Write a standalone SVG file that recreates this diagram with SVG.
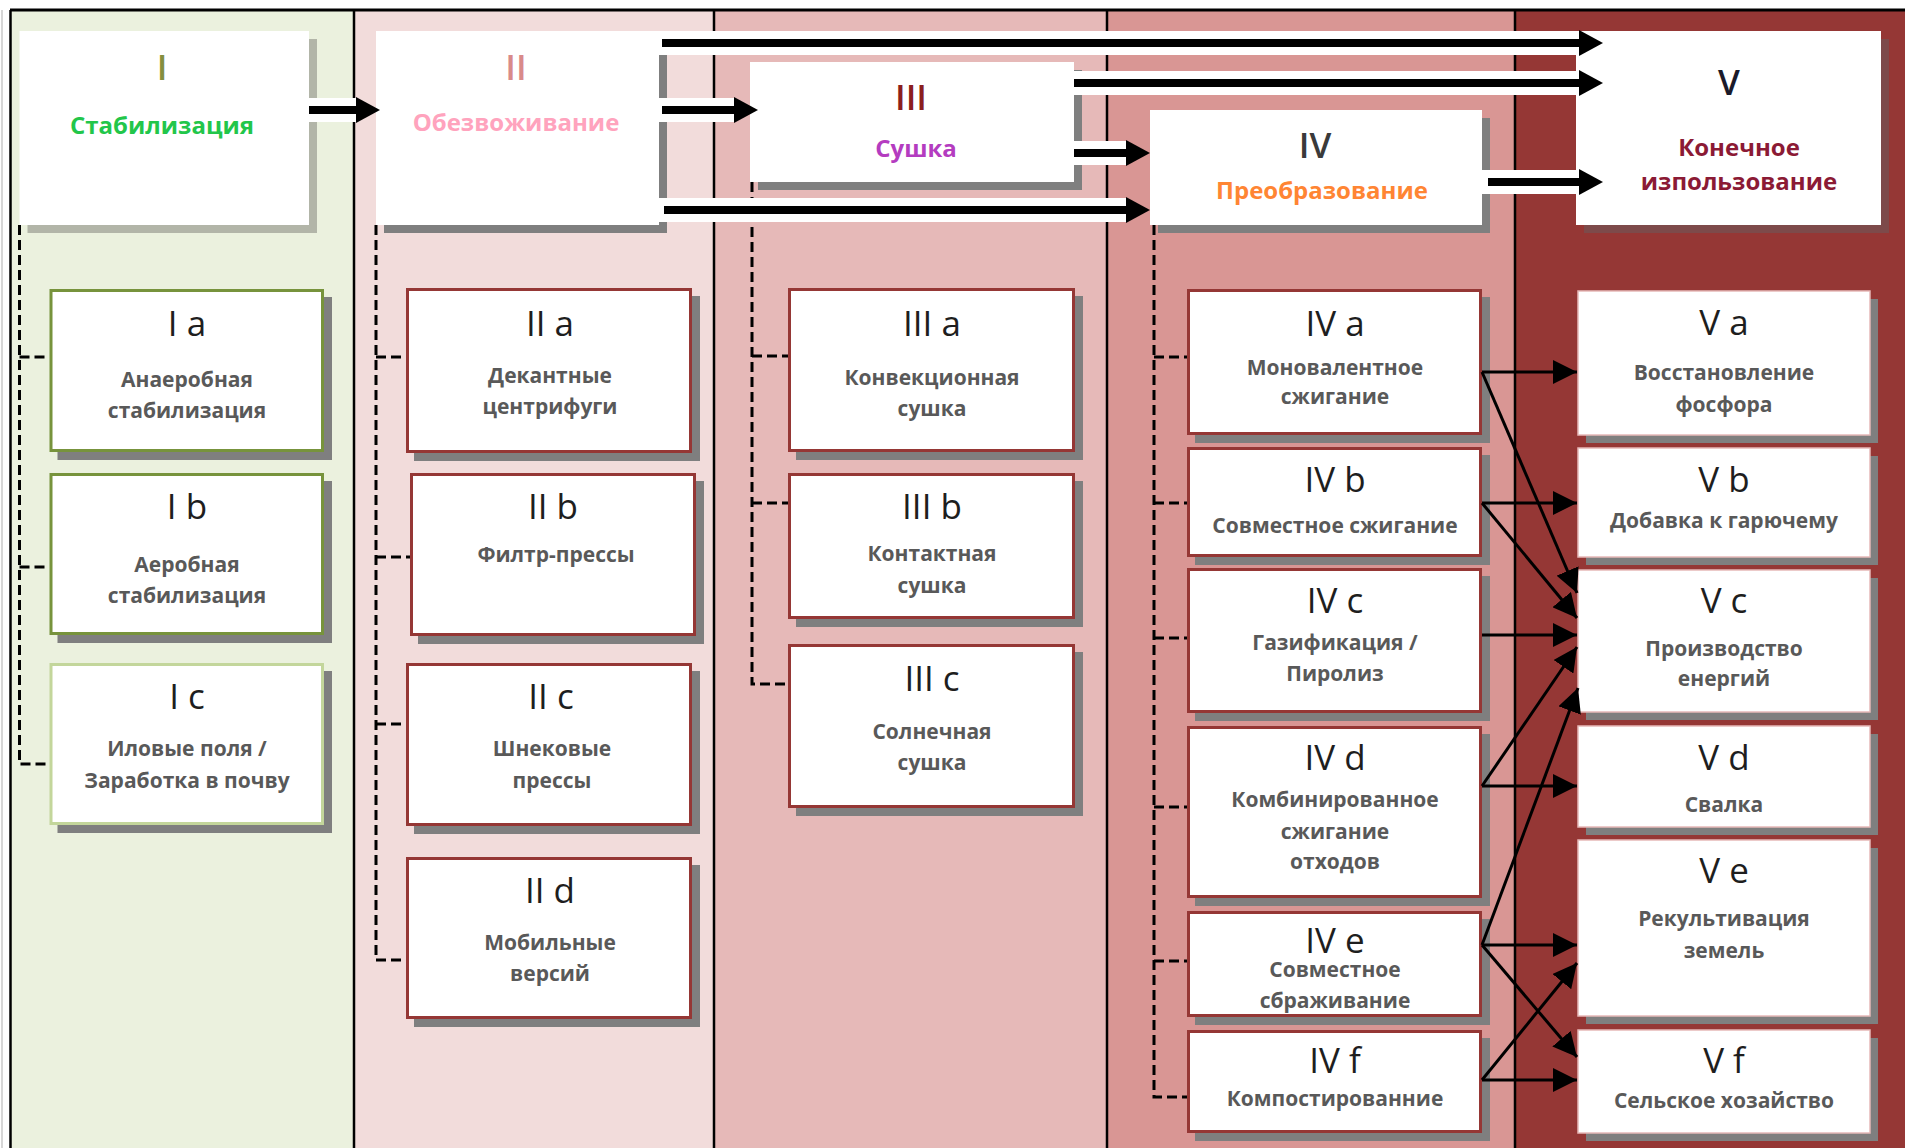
<svg xmlns="http://www.w3.org/2000/svg" width="1905" height="1148" viewBox="0 0 1905 1148">
<defs>
<style>
.n{font-family:"Open Sans","Noto Sans","DejaVu Sans",sans-serif;font-size:35px;fill:#1e1e1e;text-anchor:middle}
.l{font-family:"Open Sans","Noto Sans","DejaVu Sans",sans-serif;font-weight:700;font-size:21px;fill:#595959;text-anchor:middle}
.t{font-family:"Open Sans","Noto Sans","DejaVu Sans",sans-serif;font-weight:700;font-size:24px;text-anchor:middle}
.r{font-family:"Open Sans","Noto Sans","DejaVu Sans",sans-serif;font-weight:600;font-size:35px;text-anchor:middle}
.sh{fill:#7f7f7f}
.wb{fill:#ffffff}
.b1{fill:#ffffff;stroke:#77933c;stroke-width:3}
.b1c{fill:#ffffff;stroke:#c3d69b;stroke-width:3}
.b2{fill:#ffffff;stroke:#953735;stroke-width:3}
.b5{fill:#ffffff;stroke:#e6b9b8;stroke-width:1.5}
.dash{fill:none;stroke:#000;stroke-width:3;stroke-dasharray:10 5}
.halo{stroke:#ffffff;stroke-width:24;fill:none}
.thick{stroke:#000;stroke-width:8;fill:none;marker-end:url(#headL)}
.thin{stroke:#000;stroke-width:3;fill:none;marker-end:url(#headS)}
.div{stroke:#000;stroke-width:2.5}
</style>
<marker id="headL" markerUnits="userSpaceOnUse" markerWidth="24" markerHeight="26" viewBox="0 0 24 26" refX="0" refY="13" orient="auto">
<path d="M0,0 L24,13 L0,26 Z" fill="#000"/>
</marker>
<marker id="headS" markerUnits="userSpaceOnUse" markerWidth="24" markerHeight="24" viewBox="0 0 24 24" refX="24" refY="12" orient="auto">
<path d="M0,0 L24,12 L0,24 Z" fill="#000"/>
</marker>
</defs>

<g id="background">
<rect x="0" y="0" width="1905" height="1148" fill="#ffffff"/>
<rect x="10" y="10" width="344" height="1138" fill="#ebf1de"/>
<rect x="354" y="10" width="360" height="1138" fill="#f2dcdb"/>
<rect x="714" y="10" width="393" height="1138" fill="#e6b9b8"/>
<rect x="1107" y="10" width="408" height="1138" fill="#d99694"/>
<rect x="1515" y="10" width="390" height="1138" fill="#953735"/>
<line x1="2" y1="10" x2="2" y2="1148" stroke="#c8c8c8" stroke-width="1.5"/>
<line x1="10.5" y1="10" x2="10.5" y2="1148" class="div"/>
<line x1="10" y1="10" x2="1905" y2="10" stroke="#000" stroke-width="3"/>
<line x1="354" y1="10" x2="354" y2="1148" class="div"/>
<line x1="714" y1="10" x2="714" y2="1148" class="div"/>
<line x1="1107" y1="10" x2="1107" y2="1148" class="div"/>
<line x1="1515" y1="10" x2="1515" y2="1148" class="div"/>
</g>

<g id="dashed-connectors">
<path class="dash" d="M19.5,225 V764 H49 M19.5,357 H49 M19.5,567 H49"/>
<path class="dash" d="M376,225 V960 H406 M376,357 H406 M376,557 H410 M376,724 H406"/>
<path class="dash" d="M752,182 V684 H788 M752,356 H788 M752,503 H788"/>
<path class="dash" d="M1154,225 V1097 H1187 M1154,357 H1187 M1154,503 H1187 M1154,638 H1187 M1154,807 H1187 M1154,961 H1187"/>
</g>

<g id="node-I">
<rect x="27.5" y="39" width="289.5" height="194" fill="#b2b5a8"/>
<rect class="wb" x="19.5" y="31" width="289.5" height="194"/>
<text class="r" x="162" y="80" fill="#858f3e">I</text>
<text class="t" x="162" y="134" fill="#22c64a">Стабилизация</text>
</g>
<g id="node-II">
<rect class="sh" x="384" y="39" width="283" height="194"/>
<rect class="wb" x="376" y="31" width="283" height="194"/>
<text class="r" x="516" y="80" fill="#d98a8a">II</text>
<text class="t" x="516" y="131" fill="#ffa3bd">Обезвоживание</text>
</g>
<g id="node-III">
<rect class="sh" x="758" y="70" width="324" height="120"/>
<rect class="wb" x="750" y="62" width="324" height="120"/>
<text class="r" x="911" y="110" fill="#8b1e1e">III</text>
<text class="t" x="916" y="157" fill="#b43cc0">Сушка</text>
</g>
<g id="node-IV">
<rect class="sh" x="1158" y="118" width="332" height="115"/>
<rect class="wb" x="1150" y="110" width="332" height="115"/>
<text class="r" x="1315" y="158" fill="#3a3a3a">IV</text>
<text class="t" x="1322" y="199" fill="#ff8533">Преобразование</text>
</g>
<g id="node-V">
<rect x="1584" y="39" width="305" height="194" fill="#7d4a4a"/>
<rect class="wb" x="1576" y="31" width="305" height="194"/>
<text class="r" x="1729" y="95" fill="#1a1a2a">V</text>
<text class="t" x="1739" y="156" fill="#8b1a35">Конечное</text>
<text class="t" x="1739" y="190" fill="#8b1a35">изпользование</text>
</g>

<g id="node-Ia">
<rect class="sh" x="57.5" y="297" width="274.5" height="163"/>
<rect class="b1" x="51" y="290.5" width="271.5" height="160"/>
<text class="n" x="187" y="336">I a</text>
<text class="l" x="187" y="387">Анаеробная</text>
<text class="l" x="187" y="418">стабилизация</text>
</g>
<g id="node-Ib">
<rect class="sh" x="57.5" y="481" width="274.5" height="162"/>
<rect class="b1" x="51" y="474.5" width="271.5" height="159"/>
<text class="n" x="187" y="519">I b</text>
<text class="l" x="187" y="572">Аеробная</text>
<text class="l" x="187" y="603">стабилизация</text>
</g>
<g id="node-Ic">
<rect class="sh" x="57.5" y="671" width="274.5" height="162"/>
<rect class="b1c" x="51" y="664.5" width="271.5" height="159"/>
<text class="n" x="187" y="709">I c</text>
<text class="l" x="187" y="756">Иловые поля /</text>
<text class="l" x="187" y="788">Заработка в почву</text>
</g>

<g id="node-IIa">
<rect class="sh" x="414" y="296" width="286" height="165"/>
<rect class="b2" x="407.5" y="289.5" width="283" height="162"/>
<text class="n" x="550" y="336">II a</text>
<text class="l" x="550" y="383">Декантные</text>
<text class="l" x="550" y="414">центрифуги</text>
</g>
<g id="node-IIb">
<rect class="sh" x="418" y="481" width="286" height="163"/>
<rect class="b2" x="411.5" y="474.5" width="283" height="160"/>
<text class="n" x="553" y="519">II b</text>
<text class="l" x="556" y="562">Филтр-прессы</text>
</g>
<g id="node-IIc">
<rect class="sh" x="414" y="671" width="286" height="163"/>
<rect class="b2" x="407.5" y="664.5" width="283" height="160"/>
<text class="n" x="551" y="709">II c</text>
<text class="l" x="552" y="756">Шнековые</text>
<text class="l" x="552" y="788">прессы</text>
</g>
<g id="node-IId">
<rect class="sh" x="414" y="865" width="286" height="162"/>
<rect class="b2" x="407.5" y="858.5" width="283" height="159"/>
<text class="n" x="550" y="903">II d</text>
<text class="l" x="550" y="950">Мобильные</text>
<text class="l" x="550" y="981">версий</text>
</g>

<g id="node-IIIa">
<rect class="sh" x="796" y="296" width="287" height="164"/>
<rect class="b2" x="789.5" y="289.5" width="284" height="161"/>
<text class="n" x="932" y="336">III a</text>
<text class="l" x="932" y="385">Конвекционная</text>
<text class="l" x="932" y="416">сушка</text>
</g>
<g id="node-IIIb">
<rect class="sh" x="796" y="481" width="287" height="146"/>
<rect class="b2" x="789.5" y="474.5" width="284" height="143"/>
<text class="n" x="932" y="519">III b</text>
<text class="l" x="932" y="561">Контактная</text>
<text class="l" x="932" y="593">сушка</text>
</g>
<g id="node-IIIc">
<rect class="sh" x="796" y="652" width="287" height="164"/>
<rect class="b2" x="789.5" y="645.5" width="284" height="161"/>
<text class="n" x="932" y="691">III c</text>
<text class="l" x="932" y="739">Солнечная</text>
<text class="l" x="932" y="770">сушка</text>
</g>

<g id="node-IVa">
<rect class="sh" x="1195" y="297" width="295" height="146"/>
<rect class="b2" x="1188.5" y="290.5" width="292" height="143"/>
<text class="n" x="1335" y="336">IV a</text>
<text class="l" x="1335" y="375">Моновалентное</text>
<text class="l" x="1335" y="404">сжигание</text>
</g>
<g id="node-IVb">
<rect class="sh" x="1195" y="455" width="295" height="110"/>
<rect class="b2" x="1188.5" y="448.5" width="292" height="107"/>
<text class="n" x="1335" y="492">IV b</text>
<text class="l" x="1335" y="533">Совместное сжигание</text>
</g>
<g id="node-IVc">
<rect class="sh" x="1195" y="576" width="295" height="145"/>
<rect class="b2" x="1188.5" y="569.5" width="292" height="142"/>
<text class="n" x="1335" y="613">IV c</text>
<text class="l" x="1335" y="650">Газификация /</text>
<text class="l" x="1335" y="681">Пиролиз</text>
</g>
<g id="node-IVd">
<rect class="sh" x="1195" y="734" width="295" height="172"/>
<rect class="b2" x="1188.5" y="727.5" width="292" height="169"/>
<text class="n" x="1335" y="770">IV d</text>
<text class="l" x="1335" y="807">Комбинированное</text>
<text class="l" x="1335" y="839">сжигание</text>
<text class="l" x="1335" y="869">отходов</text>
</g>
<g id="node-IVe">
<rect class="sh" x="1195" y="919" width="295" height="106"/>
<rect class="b2" x="1188.5" y="912.5" width="292" height="103"/>
<text class="n" x="1335" y="953">IV e</text>
<text class="l" x="1335" y="977">Совместное</text>
<text class="l" x="1335" y="1008">сбраживание</text>
</g>
<g id="node-IVf">
<rect class="sh" x="1195" y="1038" width="295" height="103"/>
<rect class="b2" x="1188.5" y="1031.5" width="292" height="100"/>
<text class="n" x="1335" y="1073">IV f</text>
<text class="l" x="1335" y="1106">Компостированние</text>
</g>

<g id="node-Va">
<rect class="sh" x="1586" y="299" width="292" height="144"/>
<rect class="b5" x="1578" y="291" width="292" height="144"/>
<text class="n" x="1724" y="335">V a</text>
<text class="l" x="1724" y="380">Восстановление</text>
<text class="l" x="1724" y="412">фосфора</text>
</g>
<g id="node-Vb">
<rect class="sh" x="1586" y="456" width="292" height="109"/>
<rect class="b5" x="1578" y="448" width="292" height="109"/>
<text class="n" x="1724" y="492">V b</text>
<text class="l" x="1724" y="528">Добавка к гарючему</text>
</g>
<g id="node-Vc">
<rect class="sh" x="1586" y="578" width="292" height="142"/>
<rect class="b5" x="1578" y="570" width="292" height="142"/>
<text class="n" x="1724" y="613">V c</text>
<text class="l" x="1724" y="656">Производство</text>
<text class="l" x="1724" y="686">енергий</text>
</g>
<g id="node-Vd">
<rect class="sh" x="1586" y="734" width="292" height="101"/>
<rect class="b5" x="1578" y="726" width="292" height="101"/>
<text class="n" x="1724" y="770">V d</text>
<text class="l" x="1724" y="812">Свалка</text>
</g>
<g id="node-Ve">
<rect class="sh" x="1586" y="848" width="292" height="176"/>
<rect class="b5" x="1578" y="840" width="292" height="176"/>
<text class="n" x="1724" y="883">V e</text>
<text class="l" x="1724" y="926">Рекультивация</text>
<text class="l" x="1724" y="958">земель</text>
</g>
<g id="node-Vf">
<rect class="sh" x="1586" y="1038" width="292" height="103"/>
<rect class="b5" x="1578" y="1030" width="292" height="103"/>
<text class="n" x="1724" y="1073">V f</text>
<text class="l" x="1724" y="1108">Сельское хозайство</text>
</g>

<g id="connectors">
<g id="stage-arrows">
<line class="halo" x1="309" y1="110" x2="356" y2="110"/>
<line class="halo" x1="659" y1="110" x2="734" y2="110"/>
<line class="halo" x1="659" y1="43" x2="1579" y2="43"/>
<line class="halo" x1="1074" y1="83" x2="1579" y2="83"/>
<line class="halo" x1="1074" y1="153" x2="1126" y2="153"/>
<line class="halo" x1="659" y1="210" x2="1126" y2="210"/>
<line class="halo" x1="1482" y1="182" x2="1579" y2="182"/>
<line class="thick" x1="309" y1="110" x2="356" y2="110"/>
<line class="thick" x1="662" y1="110" x2="734" y2="110"/>
<line class="thick" x1="662" y1="43" x2="1579" y2="43"/>
<line class="thick" x1="1074" y1="83" x2="1579" y2="83"/>
<line class="thick" x1="1074" y1="153" x2="1126" y2="153"/>
<line class="thick" x1="664" y1="210" x2="1126" y2="210"/>
<line class="thick" x1="1488" y1="182" x2="1579" y2="182"/>
</g>
<g id="product-arrows">
<line class="thin" x1="1482" y1="372" x2="1577" y2="372"/>
<line class="thin" x1="1482" y1="372" x2="1577" y2="593"/>
<line class="thin" x1="1482" y1="503" x2="1577" y2="503"/>
<line class="thin" x1="1482" y1="503" x2="1577" y2="618"/>
<line class="thin" x1="1482" y1="635" x2="1577" y2="635"/>
<line class="thin" x1="1482" y1="786" x2="1577" y2="647"/>
<line class="thin" x1="1482" y1="786" x2="1577" y2="786"/>
<line class="thin" x1="1482" y1="945" x2="1578" y2="688"/>
<line class="thin" x1="1482" y1="945" x2="1577" y2="945"/>
<line class="thin" x1="1482" y1="945" x2="1577" y2="1057"/>
<line class="thin" x1="1482" y1="1080" x2="1577" y2="963"/>
<line class="thin" x1="1482" y1="1080" x2="1577" y2="1080"/>
</g>
</g>
</svg>
